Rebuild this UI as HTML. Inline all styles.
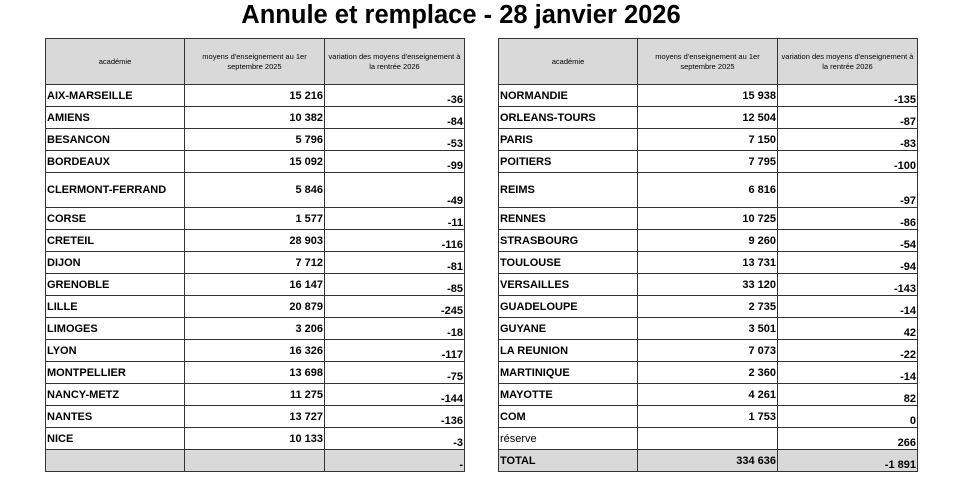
<!DOCTYPE html>
<html><head><style>
body{margin:0;width:968px;height:478px;background:#fff;font-family:"Liberation Sans",Arial,sans-serif;position:relative;overflow:hidden}
h1{position:absolute;left:0;width:922px;top:1px;margin:0;text-align:center;font-size:25.5px;font-weight:bold;color:#000}
table{position:absolute;top:38px;border-collapse:collapse;table-layout:fixed}
td{border:1px solid #333;padding:0 1px;font-size:11px;font-weight:bold;height:21px;white-space:nowrap;color:#000}
td.n{text-align:right;vertical-align:middle}
td.v{text-align:right;vertical-align:bottom;padding-bottom:0}
tr.h td{background:#d9d9d9;height:45px;font-weight:normal;font-size:7.5px;text-align:center;line-height:10px;white-space:normal}
tr.t td{height:34px}
tr.g td{background:#d9d9d9}
</style></head><body>
<h1>Annule et remplace - 28 janvier 2026</h1>
<table style="left:45px;width:419px">
<colgroup><col style="width:139px"><col style="width:140px"><col style="width:140px"></colgroup>
<tr class="h"><td>académie</td><td>moyens d'enseignement au 1er septembre 2025</td><td>variation des moyens d'enseignement à la rentrée 2026</td></tr>
<tr><td>AIX-MARSEILLE</td><td class="n">15 216</td><td class="v">-36</td></tr>
<tr><td>AMIENS</td><td class="n">10 382</td><td class="v">-84</td></tr>
<tr><td>BESANCON</td><td class="n">5 796</td><td class="v">-53</td></tr>
<tr><td>BORDEAUX</td><td class="n">15 092</td><td class="v">-99</td></tr>
<tr class="t"><td>CLERMONT-FERRAND</td><td class="n">5 846</td><td class="v">-49</td></tr>
<tr><td>CORSE</td><td class="n">1 577</td><td class="v">-11</td></tr>
<tr><td>CRETEIL</td><td class="n">28 903</td><td class="v">-116</td></tr>
<tr><td>DIJON</td><td class="n">7 712</td><td class="v">-81</td></tr>
<tr><td>GRENOBLE</td><td class="n">16 147</td><td class="v">-85</td></tr>
<tr><td>LILLE</td><td class="n">20 879</td><td class="v">-245</td></tr>
<tr><td>LIMOGES</td><td class="n">3 206</td><td class="v">-18</td></tr>
<tr><td>LYON</td><td class="n">16 326</td><td class="v">-117</td></tr>
<tr><td>MONTPELLIER</td><td class="n">13 698</td><td class="v">-75</td></tr>
<tr><td>NANCY-METZ</td><td class="n">11 275</td><td class="v">-144</td></tr>
<tr><td>NANTES</td><td class="n">13 727</td><td class="v">-136</td></tr>
<tr><td>NICE</td><td class="n">10 133</td><td class="v">-3</td></tr>
<tr class="g"><td></td><td class="n"></td><td class="v">-</td></tr>
</table>
<table style="left:498px;width:419px">
<colgroup><col style="width:139px"><col style="width:140px"><col style="width:140px"></colgroup>
<tr class="h"><td>académie</td><td>moyens d'enseignement au 1er septembre 2025</td><td>variation des moyens d'enseignement à la rentrée 2026</td></tr>
<tr><td>NORMANDIE</td><td class="n">15 938</td><td class="v">-135</td></tr>
<tr><td>ORLEANS-TOURS</td><td class="n">12 504</td><td class="v">-87</td></tr>
<tr><td>PARIS</td><td class="n">7 150</td><td class="v">-83</td></tr>
<tr><td>POITIERS</td><td class="n">7 795</td><td class="v">-100</td></tr>
<tr class="t"><td>REIMS</td><td class="n">6 816</td><td class="v">-97</td></tr>
<tr><td>RENNES</td><td class="n">10 725</td><td class="v">-86</td></tr>
<tr><td>STRASBOURG</td><td class="n">9 260</td><td class="v">-54</td></tr>
<tr><td>TOULOUSE</td><td class="n">13 731</td><td class="v">-94</td></tr>
<tr><td>VERSAILLES</td><td class="n">33 120</td><td class="v">-143</td></tr>
<tr><td>GUADELOUPE</td><td class="n">2 735</td><td class="v">-14</td></tr>
<tr><td>GUYANE</td><td class="n">3 501</td><td class="v">42</td></tr>
<tr><td>LA REUNION</td><td class="n">7 073</td><td class="v">-22</td></tr>
<tr><td>MARTINIQUE</td><td class="n">2 360</td><td class="v">-14</td></tr>
<tr><td>MAYOTTE</td><td class="n">4 261</td><td class="v">82</td></tr>
<tr><td>COM</td><td class="n">1 753</td><td class="v">0</td></tr>
<tr><td style="font-weight:normal">réserve</td><td class="n"></td><td class="v">266</td></tr>
<tr class="g"><td>TOTAL</td><td class="n">334 636</td><td class="v">-1 891</td></tr>
</table>
</body></html>
